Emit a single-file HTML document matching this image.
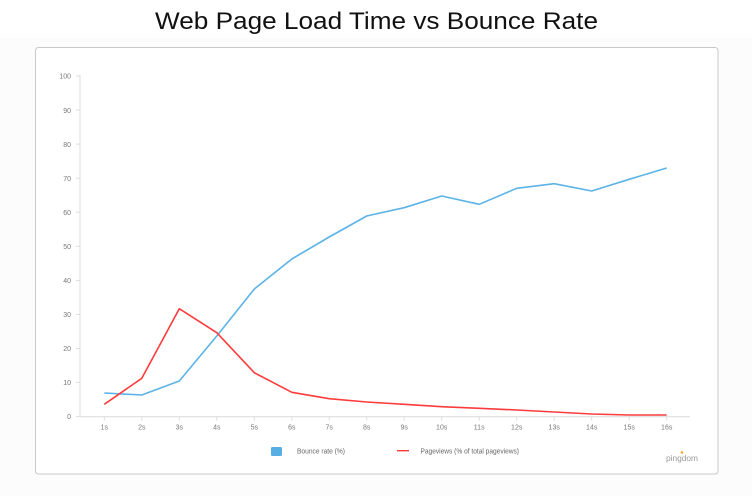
<!DOCTYPE html>
<html><head><meta charset="utf-8"><style>
html,body{margin:0;padding:0;background:#fcfcfc;}
svg{display:block;}
text{font-family:"Liberation Sans",sans-serif;}
</style></head><body>
<svg width="752" height="496" viewBox="0 0 752 496" xmlns="http://www.w3.org/2000/svg">
<rect x="0" y="0" width="752" height="496" fill="#fcfcfc"/>
<rect x="0" y="0" width="752" height="38" fill="#ffffff"/>
<text x="376.5" y="29" text-anchor="middle" font-size="24" fill="#111" textLength="443" lengthAdjust="spacingAndGlyphs">Web Page Load Time vs Bounce Rate</text>
<rect x="35.5" y="47.5" width="682.5" height="426.5" rx="3" ry="3" fill="#ffffff" stroke="#c8c8c8" stroke-width="1"/>
<!-- axes -->
<line x1="80" y1="75" x2="80" y2="417" stroke="#e2e2e2" stroke-width="1.2"/>
<line x1="80" y1="416.6" x2="690" y2="416.6" stroke="#e2e2e2" stroke-width="1.2"/>
<g stroke="#dcdcdc" stroke-width="1">
<line x1="76" y1="416.6" x2="80" y2="416.6"/><line x1="76" y1="382.5" x2="80" y2="382.5"/><line x1="76" y1="348.5" x2="80" y2="348.5"/><line x1="76" y1="314.4" x2="80" y2="314.4"/><line x1="76" y1="280.4" x2="80" y2="280.4"/><line x1="76" y1="246.3" x2="80" y2="246.3"/><line x1="76" y1="212.2" x2="80" y2="212.2"/><line x1="76" y1="178.2" x2="80" y2="178.2"/><line x1="76" y1="144.1" x2="80" y2="144.1"/><line x1="76" y1="110.1" x2="80" y2="110.1"/><line x1="76" y1="76" x2="80" y2="76"/>
<line x1="104.3" y1="416.6" x2="104.3" y2="420.5"/><line x1="141.8" y1="416.6" x2="141.8" y2="420.5"/><line x1="179.3" y1="416.6" x2="179.3" y2="420.5"/><line x1="216.8" y1="416.6" x2="216.8" y2="420.5"/><line x1="254.3" y1="416.6" x2="254.3" y2="420.5"/><line x1="291.8" y1="416.6" x2="291.8" y2="420.5"/><line x1="329.2" y1="416.6" x2="329.2" y2="420.5"/><line x1="366.7" y1="416.6" x2="366.7" y2="420.5"/><line x1="404.2" y1="416.6" x2="404.2" y2="420.5"/><line x1="441.7" y1="416.6" x2="441.7" y2="420.5"/><line x1="479.2" y1="416.6" x2="479.2" y2="420.5"/><line x1="516.7" y1="416.6" x2="516.7" y2="420.5"/><line x1="554.2" y1="416.6" x2="554.2" y2="420.5"/><line x1="591.7" y1="416.6" x2="591.7" y2="420.5"/><line x1="629.2" y1="416.6" x2="629.2" y2="420.5"/><line x1="666.7" y1="416.6" x2="666.7" y2="420.5"/>
</g>
<g font-size="7" fill="#777" text-anchor="end">
<text x="71" y="419">0</text><text x="71" y="385">10</text><text x="71" y="351">20</text><text x="71" y="317">30</text><text x="71" y="283">40</text><text x="71" y="249">50</text><text x="71" y="215">60</text><text x="71" y="181">70</text><text x="71" y="147">80</text><text x="71" y="113">90</text><text x="71" y="78.5">100</text>
</g>
<g font-size="7" fill="#777" text-anchor="middle">
<text x="104.3" y="429.5">1s</text><text x="141.8" y="429.5">2s</text><text x="179.3" y="429.5">3s</text><text x="216.8" y="429.5">4s</text><text x="254.3" y="429.5">5s</text><text x="291.8" y="429.5">6s</text><text x="329.2" y="429.5">7s</text><text x="366.7" y="429.5">8s</text><text x="404.2" y="429.5">9s</text><text x="441.7" y="429.5">10s</text><text x="479.2" y="429.5">11s</text><text x="516.7" y="429.5">12s</text><text x="554.2" y="429.5">13s</text><text x="591.7" y="429.5">14s</text><text x="629.2" y="429.5">15s</text><text x="666.7" y="429.5">16s</text>
</g>
<polyline fill="none" stroke="#5bb3e6" stroke-width="1.6" stroke-linejoin="round" points="104.3,393 141.8,395 179.3,381 216.8,336 254.3,289 291.8,259 329.2,237 366.7,216 404.2,207.7 441.7,196 479.2,204.3 516.7,188.3 554.2,183.7 591.7,191 629.2,179.3 666.7,168"/>
<polyline fill="none" stroke="#ff3b3b" stroke-width="1.6" stroke-linejoin="round" points="104.3,404.3 141.8,378.3 179.3,308.7 216.8,332.7 254.3,372.7 291.8,392.3 329.2,398.7 366.7,402 404.2,404.3 441.7,406.7 479.2,408.3 516.7,410 554.2,412 591.7,414 629.2,415 666.7,415"/>
<!-- legend -->
<rect x="271" y="447" width="11" height="9" rx="1.5" fill="#56aee2"/>
<text x="297" y="453.5" font-size="7" fill="#666" textLength="48" lengthAdjust="spacingAndGlyphs">Bounce rate  (%)</text>
<line x1="397" y1="450.7" x2="409" y2="450.7" stroke="#ff3b3b" stroke-width="1.4"/>
<text x="420.5" y="453.5" font-size="7" fill="#666" textLength="98.5" lengthAdjust="spacingAndGlyphs">Pageviews (% of total pageviews)</text>
<!-- pingdom -->
<circle cx="682" cy="452.5" r="1.3" fill="#f5a623"/>
<text x="666" y="461" font-size="8" fill="#999" textLength="32" lengthAdjust="spacingAndGlyphs">pingdom</text>
</svg>
</body></html>
